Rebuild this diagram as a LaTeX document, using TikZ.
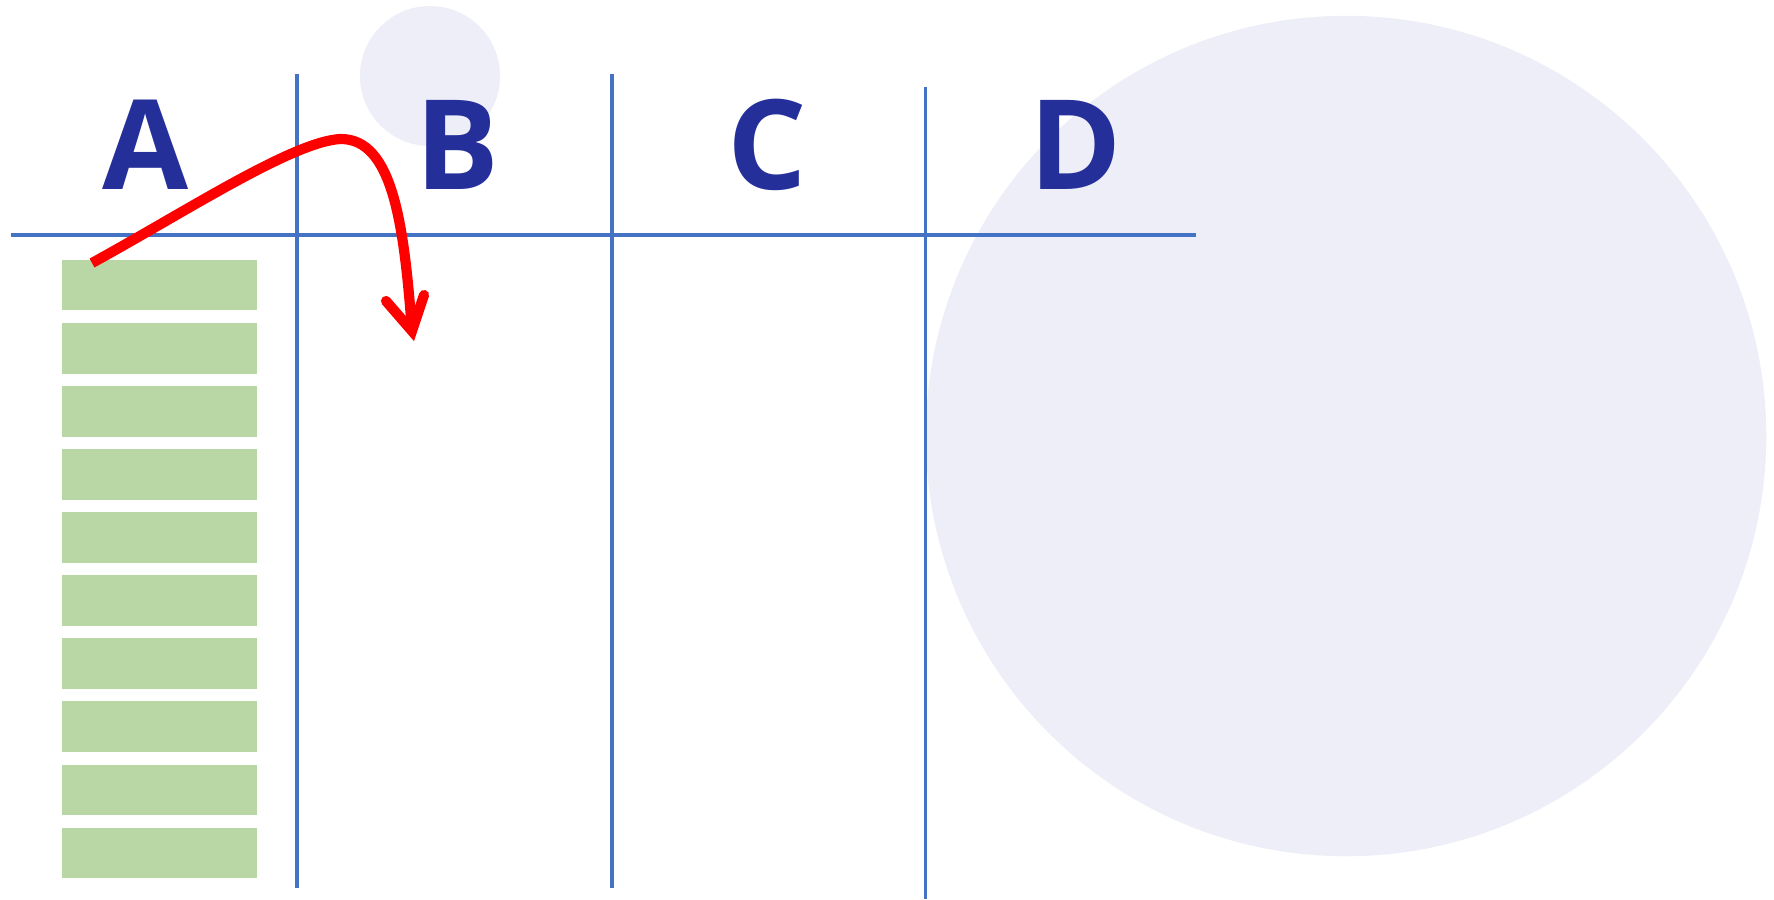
\documentclass[tikz,border=0pt]{standalone}
\usepackage{fontspec}
\setmainfont{Open Sans}
\definecolor{lav}{HTML}{EEEEF8}
\definecolor{gridblue}{HTML}{4472C4}
\definecolor{barg}{HTML}{B9D6A5}
\definecolor{letterblue}{HTML}{252F9A}
\definecolor{arrowred}{HTML}{FF0000}
\begin{document}
\begin{tikzpicture}[x=0.01cm,y=-0.01cm,
  bgcirc/.style={circle,fill=lav,draw=none,inner sep=0pt},
  gridline/.style={draw=gridblue,line width=0.9pt},
  barbox/.style={rectangle,fill=barg,draw=none,inner sep=0pt,minimum width=1.95cm,minimum height=0.507cm,anchor=north west},
  letter/.style={text=letterblue,font=\bfseries\fontsize{35.5}{40}\selectfont,inner sep=0pt,anchor=base},
  redline/.style={draw=arrowred,line width=2.9pt}]
\useasboundingbox (0,0) rectangle (1774,899);
% background circles
\node[bgcirc,minimum size=8.4cm] (bigcirc) at (1346,436) {};
\node[bgcirc,minimum size=1.4cm] (smallcirc) at (430,76) {};
% grid lines
\coordinate (h1) at (11,235);
\coordinate (h2) at (1196,235);
\coordinate (v1t) at (297,74);
\coordinate (v1b) at (297,888);
\coordinate (v2t) at (612,74);
\coordinate (v2b) at (612,888);
\coordinate (v3t) at (925.5,87);
\coordinate (v3b) at (925.5,899);
\draw[gridline] (h1) -- (h2);
\draw[gridline] (v1t) -- (v1b);
\draw[gridline] (v2t) -- (v2b);
\draw[gridline] (v3t) -- (v3b);
% letters
\node[letter] (A) at (145.5,189.5) {A};
\node[letter] (B) at (457.5,189.5) {B};
\node[letter] (C) at (767,189.5) {C};
\node[letter] (D) at (1076,189.5) {D};
% bars
\foreach \i in {0,...,9}
  \node[barbox] (bar\i) at (61,{259+63.1*\i}) {};
% arrow
\coordinate (s) at (92,263);
\coordinate (peak) at (340,139);
\coordinate (t) at (412,331);
\coordinate (bl) at (386,301);
\coordinate (br) at (424,295);
\draw[redline,line cap=butt] (s) .. controls (185,212) and (292,142) .. (peak) .. controls (393,138) and (404,225) .. (t);
\draw[redline,line cap=round,line join=miter] (bl) -- (t) -- (br);
\end{tikzpicture}
\end{document}
